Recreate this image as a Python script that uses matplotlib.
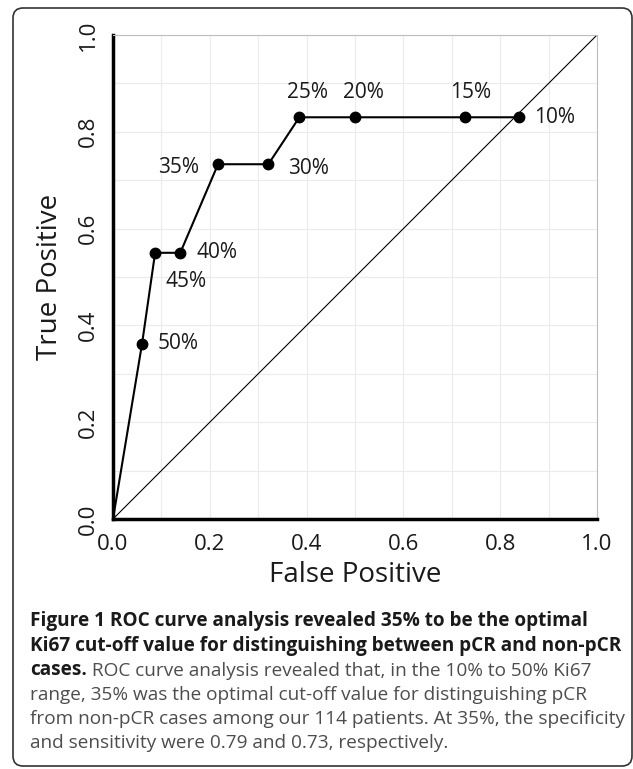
import numpy as np
import matplotlib
matplotlib.use('Agg')
import matplotlib.pyplot as plt
from matplotlib.patches import FancyBboxPatch
from matplotlib.transforms import IdentityTransform

# ROC points (Ki67 cut-offs)
fpr = [0.0, 0.060, 0.087, 0.139, 0.217, 0.321, 0.385, 0.500, 0.728, 0.839]
tpr = [0.0, 0.362, 0.550, 0.550, 0.733, 0.733, 0.830, 0.830, 0.830, 0.830]
cutoffs = ['', '50%', '45%', '40%', '35%', '30%', '25%', '20%', '15%', '10%']
ticks = [0.0, 0.2, 0.4, 0.6, 0.8, 1.0]

caption_bold = ['Figure 1 ROC curve analysis revealed 35% to be the optimal',
                'Ki67 cut-off value for distinguishing between pCR and non-pCR',
                'cases.']
caption_text = [' ROC curve analysis revealed that, in the 10% to 50% Ki67',
                'range, 35% was the optimal cut-off value for distinguishing pCR',
                'from non-pCR cases among our 114 patients. At 35%, the specificity',
                'and sensitivity were 0.79 and 0.73, respectively.']

plt.rcParams['font.family'] = ['Open Sans', 'DejaVu Sans']

W, H = 633, 769
fig = plt.figure(figsize=(W / 100, H / 100), dpi=100)

# rounded frame around figure + caption
fig.patches.append(FancyBboxPatch((13, 3), 619, 758, boxstyle='round,pad=0,rounding_size=10',
                                  transform=IdentityTransform(), fill=False,
                                  ec='#333333', lw=1.2))

ax = fig.add_axes([113 / W, 1 - 519 / H, 484 / W, 484 / H])
ax.plot([0, 1], [0, 1], color='black', lw=0.8, zorder=2)
ax.plot(fpr, tpr, color='black', lw=1.5, marker='o', ms=7.5, zorder=3, clip_on=False,
        markevery=list(range(1, len(fpr))))

# label offsets in points (ha, va, dx, dy)
offs = [None,
        ('left', 'center', 11, 0),
        ('center', 'center', 22, -21),
        ('left', 'center', 12, 0),
        ('right', 'center', -14, -2),
        ('left', 'center', 14, -3),
        ('center', 'center', 6, 18),
        ('center', 'center', 6, 18),
        ('center', 'center', 4, 18),
        ('left', 'center', 11, 0)]
for x, y, lab, o in zip(fpr, tpr, cutoffs, offs):
    if not lab:
        continue
    ha, va, dx, dy = o
    ax.annotate(lab, (x, y), xytext=(dx, dy), textcoords='offset points',
                ha=ha, va=va, fontsize=15, color='#1a1a1a')

ax.set_xlim(0, 1)
ax.set_ylim(0, 1)
ax.set_xticks(ticks)
ax.set_yticks(ticks)
ax.set_xticklabels(['%.1f' % t for t in ticks])
ax.set_yticklabels(['%.1f' % t for t in ticks], rotation=90, va='center')
ax.set_xticks(np.arange(0.1, 1.0, 0.2), minor=True)
ax.set_yticks(np.arange(0.1, 1.0, 0.2), minor=True)
ax.grid(True, which='both', color='#ebebeb', lw=0.8, zorder=0)
ax.tick_params(which='both', length=0, labelsize=16, colors='#1a1a1a')
ax.tick_params(axis='x', pad=11)
ax.tick_params(axis='y', pad=10)
ax.set_axisbelow(True)

for s in ['left', 'bottom']:
    ax.spines[s].set_linewidth(2.5)
    ax.spines[s].set_color('black')
for s in ['top', 'right']:
    ax.spines[s].set_linewidth(0.8)
    ax.spines[s].set_color('#bdbdbd')

ax.set_xlabel('False Positive', fontsize=20, color='#1a1a1a', labelpad=4)
ax.set_ylabel('True Positive', fontsize=20, color='#1a1a1a', labelpad=10)

# caption
x0 = 30 / W
line_y = [621, 645.5, 670, 694.5, 719, 743.5]
cap_fs = 13.7
for i in range(2):
    fig.text(x0, 1 - line_y[i] / H, caption_bold[i], fontsize=cap_fs, fontweight='bold',
             color='#1a1a1a', va='center')
b = fig.text(x0, 1 - line_y[2] / H, caption_bold[2], fontsize=cap_fs, fontweight='bold',
             color='#1a1a1a', va='center')
plt.annotate(caption_text[0], xy=(1, 0), xycoords=b, va='bottom', ha='left',
             fontsize=cap_fs, color='#4d4d4d', annotation_clip=False)
for i, txt in enumerate(caption_text[1:]):
    fig.text(x0, 1 - line_y[3 + i] / H, txt, fontsize=cap_fs, color='#4d4d4d', va='center')

fig.savefig('out.png', dpi=100)
